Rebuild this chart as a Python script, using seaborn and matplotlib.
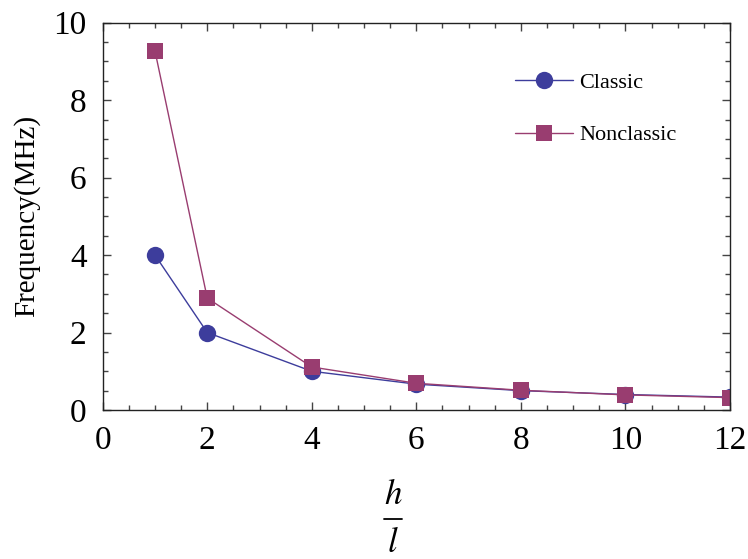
import matplotlib
matplotlib.use("Agg")
import matplotlib.pyplot as plt
import seaborn as sns
import pandas as pd
from matplotlib.ticker import MultipleLocator
from matplotlib.lines import Line2D

ratio = [1, 2, 4, 6, 8, 10, 12]
classic = [4.0, 2.0, 1.0, 0.667, 0.5, 0.4, 0.333]
nonclassic = [9.27, 2.89, 1.11, 0.69, 0.51, 0.39, 0.32]
series_names = ["Classic", "Nonclassic"]
xticks = [0, 2, 4, 6, 8, 10, 12]
yticks = [0, 2, 4, 6, 8, 10]

sns.set_theme(style="ticks")
plt.rcParams["font.family"] = ["Liberation Serif", "DejaVu Serif"]
plt.rcParams["mathtext.fontset"] = "stix"
plt.rcParams["text.color"] = "black"
plt.rcParams["axes.labelcolor"] = "black"
plt.rcParams["xtick.labelcolor"] = "black"
plt.rcParams["ytick.labelcolor"] = "black"

df = pd.DataFrame({"ratio": ratio * 2,
                   "freq": classic + nonclassic,
                   "series": [series_names[0]] * len(ratio) + [series_names[1]] * len(ratio)})

fig = plt.figure(figsize=(7.48, 5.59), dpi=100)
ax = fig.add_axes([102.7 / 748, 1 - 410 / 559, (730 - 102.7) / 748, (410 - 22.7) / 559])

blue = "#3d3d9c"
purple = "#993d70"

sns.lineplot(data=df[df.series == "Classic"], x="ratio", y="freq", ax=ax,
             color=blue, marker="o", markersize=12.5, markeredgewidth=0,
             linewidth=1.0, label="Classic")
sns.lineplot(data=df[df.series == "Nonclassic"], x="ratio", y="freq", ax=ax,
             color=purple, marker="s", markersize=11.3, markeredgewidth=0,
             linewidth=1.0, label="Nonclassic")

ax.set_xlim(0, 12)
ax.set_ylim(0, 10)
ax.set_xticks(xticks)
ax.set_yticks(yticks)
ax.set_xticklabels([str(t) for t in xticks])
ax.set_yticklabels([str(t) for t in yticks])
ax.xaxis.set_minor_locator(MultipleLocator(0.5))
ax.yaxis.set_minor_locator(MultipleLocator(0.5))
ax.tick_params(which="both", direction="in", top=True, right=True,
               color="#444444", width=1.0)
ax.tick_params(which="major", length=5.5, labelsize=24, labelcolor="black")
ax.tick_params(axis="y", which="major", pad=11.5)
ax.tick_params(axis="x", which="major", pad=11)
ax.tick_params(which="minor", length=3.3)
for s in ax.spines.values():
    s.set_color("#222222")
    s.set_linewidth(1.0)

ax.set_xlabel("")
ax.set_ylabel("Frequency(MHz)", fontsize=21, color="black")
ax.yaxis.set_label_coords(-0.099, 0.5)

# x label: h over l as a stacked fraction
fig.text(393 / 748, 1 - 496 / 559, r"$h$", fontsize=25, ha="center", va="center", color="black")
fig.text(393 / 748, 1 - 543 / 559, r"$l$", fontsize=25, ha="center", va="center", color="black")
fig.add_artist(Line2D([384 / 748, 402 / 748], [1 - 519 / 559, 1 - 519 / 559],
                      transform=fig.transFigure, color="black", linewidth=1.3))

leg = ax.legend(loc="upper left", bbox_to_anchor=(515 / 748, 1 - 72 / 559),
                bbox_transform=fig.transFigure, frameon=False, fontsize=16,
                handlelength=2.6, handletextpad=0.3, labelspacing=1.45,
                borderpad=0, borderaxespad=0)
for t in leg.get_texts():
    t.set_color("black")

fig.savefig("out.png", dpi=100)
